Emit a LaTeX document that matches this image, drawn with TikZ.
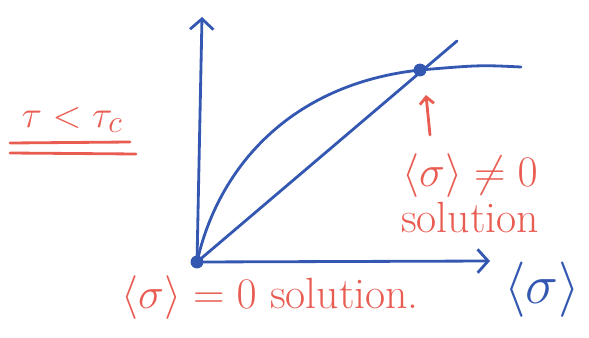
\documentclass[tikz,border=0pt]{standalone}
\usetikzlibrary{arrows.meta, positioning}
\definecolor{penblue}{RGB}{52,88,178}
\definecolor{penred}{RGB}{232,92,82}

\begin{document}
\begin{tikzpicture}[x=0.03cm, y=-0.03cm,
    blueline/.style={penblue, line width=2.4pt, line cap=round, line join=round},
    redline/.style={penred, line width=2.4pt, line cap=round},
    axisarrow/.style={blueline, -{Straight Barb[length=9pt, width=20pt, line width=2.4pt]}},
    dot/.style={circle, fill=penblue, inner sep=0pt, minimum size=11pt},
    redtxt/.style={penred, font=\Huge, scale=1.5, inner sep=1pt},
    bluetxt/.style={penblue, font=\Huge, scale=1.9, inner sep=1pt}]
  \useasboundingbox (0,0) rectangle (589,338);
  % axes and curves
  \node[dot] (o) at (197,262) {};
  \node[dot] (p) at (420,70) {};
  \coordinate (ytip) at (202,17);
  \coordinate (xtip) at (490,261);
  \coordinate (lend) at (457,41);
  \coordinate (cend) at (521,67);
  \draw[axisarrow] (o.center) -- (ytip);
  \draw[axisarrow] (o.center) -- (xtip);
  \draw[blueline] (o.center) -- (lend);
  \draw[blueline] (o.center) .. controls (218,168) and (290,84) .. (p.center)
    .. controls (480,65) .. (cend);
  % labels
  \node[redtxt, scale=0.87] (tc) at (72,120) {$\tau<\tau_c$};
  \draw[redline] (10,143) -- (130,142);
  \draw[redline] (10,153) -- (136,154);
  \node[redtxt] (neq) at (470,176) {$\langle\sigma\rangle\neq0$};
  \node[redtxt, below=0pt of neq] (sol) {solution};
  \coordinate (tail) at (430,135);
  \coordinate (tip) at (426,95);
  \draw[redline, -{Straight Barb[length=6pt, width=12pt, line width=2.4pt]}] (tail) -- (tip);
  \node[redtxt] (zero) at (270,298) {$\langle\sigma\rangle=0$ solution.};
  \node[bluetxt] (sig) at (542,290) {$\langle\sigma\rangle$};
\end{tikzpicture}
\end{document}
